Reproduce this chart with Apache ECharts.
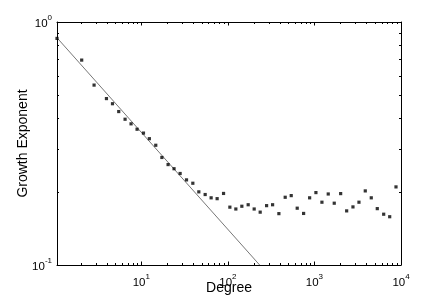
<!DOCTYPE html>
<html><head><meta charset="utf-8">
<script src="https://cdn.jsdelivr.net/npm/echarts@6/dist/echarts.min.js"></script>
<style>html,body{margin:0;padding:0;background:#fff}#c{width:443px;height:300px}</style>
</head><body><div id="c"></div>
<script>
// Data
const degree = [1.063, 2.05, 2.85, 3.96, 4.65, 5.49, 6.50, 7.62, 8.94, 10.6,
  12.4, 14.7, 17.3, 20.4, 23.9, 28.1, 33.3, 39.4, 46.2, 54.7,
  64.1, 75.2, 89.2, 105.5, 123.7, 145.1, 171.7, 201.4, 236.3, 280.2,
  328.7, 388.6, 459.6, 539.4, 632.7, 750.2, 880.2, 1040.6, 1221, 1444,
  1694, 2009, 2357, 2787, 3269, 3867, 4535, 5321, 6310, 7403, 8753];
const growthExponent = [0.856, 0.697, 0.550, 0.484, 0.461, 0.428, 0.398, 0.381, 0.362, 0.349,
  0.331, 0.311, 0.277, 0.259, 0.249, 0.238, 0.224, 0.217, 0.200, 0.195,
  0.189, 0.1875, 0.197, 0.173, 0.170, 0.1745, 0.177, 0.170, 0.165, 0.1755,
  0.177, 0.1627, 0.190, 0.193, 0.1713, 0.163, 0.189, 0.1986, 0.1813, 0.196,
  0.1796, 0.1967, 0.167, 0.1734, 0.1813, 0.2018, 0.189, 0.1706, 0.1618, 0.158, 0.2096];
const fitDegree = [1.063, 233];
const fitExponent = [0.861, 0.1];

const xRange = [1.063, 10000];
const yRange = [0.1, 1];
const xMajorTicks = [10, 100, 1000, 10000];
const xMinorTicks = [2,3,4,5,6,7,8,9, 20,30,40,50,60,70,80,90, 200,300,400,500,600,700,800,900, 2000,3000,4000,5000,6000,7000,8000,9000];
const yMajorTicks = [0.1, 1];
const yMinorTicks = [0.2,0.3,0.4,0.5,0.6,0.7,0.8,0.9];

const FONT = '"Liberation Sans", Arial, Helvetica, sans-serif';
const rich = {
  b: { fontSize: 11.5, fontFamily: FONT, color: '#000', padding: [4, 0, 0, 0] },
  s: { fontSize: 8, fontFamily: FONT, color: '#000', verticalAlign: 'top' }
};
function expLabel(v) {
  const e = Math.round(Math.log10(v));
  return '{b|10}{s|' + (e < 0 ? '-' + (-e) : e) + '}';
}

function axis(position, range, ticks, len, main) {
  return {
    type: 'log', logBase: 10, position: position,
    min: range[0], max: range[1],
    splitLine: { show: false },
    axisLine: { show: main, onZero: false, lineStyle: { color: '#000', width: 1 } },
    axisTick: { show: true, inside: true, length: len, customValues: ticks, lineStyle: { color: '#000', width: 1 } },
    minorTick: { show: false },
    axisLabel: { show: false },
    axisPointer: { show: false }
  };
}

const xAxes = [
  axis('bottom', xRange, xMajorTicks, 3.5, true),
  axis('bottom', xRange, xMinorTicks, 2, false),
  axis('top', xRange, xMajorTicks, 3.5, true),
  axis('top', xRange, xMinorTicks, 2, false)
];
xAxes[0].axisLabel = { show: true, customValues: xMajorTicks, margin: 8, formatter: expLabel, rich: rich };
xAxes[0].name = 'Degree';
xAxes[0].nameLocation = 'middle';
xAxes[0].nameGap = 16;
xAxes[0].nameMoveOverlap = false;
xAxes[0].nameTextStyle = { fontSize: 14, fontFamily: FONT, color: '#000' };

const yAxes = [
  axis('left', yRange, yMajorTicks, 3.5, true),
  axis('left', yRange, yMinorTicks, 2, false),
  axis('right', yRange, yMajorTicks, 3.5, true),
  axis('right', yRange, yMinorTicks, 2, false)
];
yAxes[0].axisLabel = { show: true, customValues: yMajorTicks, margin: 5, formatter: expLabel, rich: rich };
yAxes[0].name = 'Growth Exponent';
yAxes[0].nameLocation = 'middle';
yAxes[0].nameGap = 27;
yAxes[0].nameMoveOverlap = false;
yAxes[0].nameTextStyle = { fontSize: 14, fontFamily: FONT, color: '#000' };

const chart = echarts.init(document.getElementById('c'), null, { renderer: 'canvas' });
chart.setOption({
  animation: false,
  backgroundColor: '#fff',
  grid: { left: 57, right: 42, top: 22, bottom: 35, containLabel: false, outerBoundsMode: 'none' },
  xAxis: xAxes,
  yAxis: yAxes,
  series: [
    {
      type: 'line', xAxisIndex: 0, yAxisIndex: 0,
      data: fitDegree.map((d, i) => [d, fitExponent[i]]),
      showSymbol: false, symbol: 'none',
      lineStyle: { color: '#777', width: 1 },
      silent: true, z: 2
    },
    {
      type: 'scatter', xAxisIndex: 0, yAxisIndex: 0,
      data: degree.map((d, i) => [d, growthExponent[i]]),
      symbol: 'rect', symbolSize: 3.2,
      itemStyle: { color: '#000' },
      silent: true, z: 3
    }
  ]
});
</script>
</body></html>
